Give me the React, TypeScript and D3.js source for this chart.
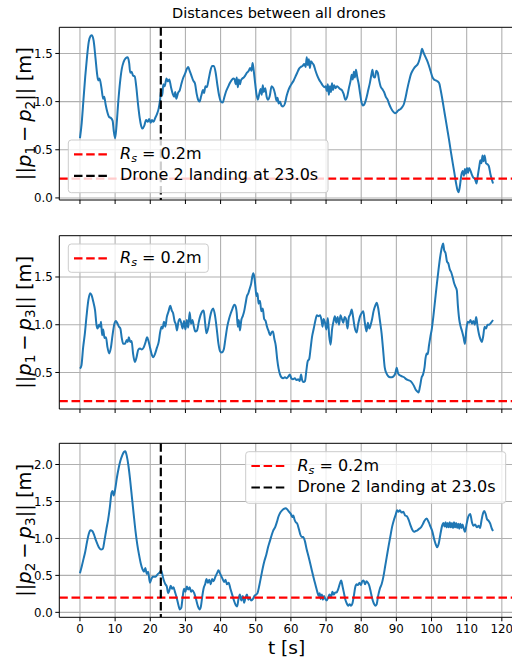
import React from 'react';
import * as d3 from 'd3';

type P = [number, number];

// ||p1 - p2|| over time [t (s), distance (m)]
const d12: P[] = [
[0,0.62],[0.5,0.78],[1,1.02],[1.5,1.26],[2,1.46],[2.5,1.62],[3,1.68],[3.4,1.69],[3.9,1.63],[4.4,1.46],[4.9,1.28],[5.2,1.22],[5.5,1.24],[5.8,1.21],[6.2,1.12],[6.6,1.03],[6.9,1.05],[7.3,0.97],[7.8,0.89],[8.3,0.84],[8.8,0.83],[9.3,0.80],[9.6,0.70],[10,0.62],[10.4,0.75],[10.9,1.0],[11.4,1.2],[11.9,1.34],[12.4,1.41],[13,1.45],[13.6,1.46],[14,1.40],[14.3,1.30],[14.7,1.31],[15.1,1.27],[15.6,1.26],[16,1.16],[16.5,0.98],[17,0.83],[17.4,0.75],[17.8,0.72],[18.3,0.75],[18.8,0.81],[19.3,0.79],[19.7,0.82],[20.1,0.78],[20.5,0.81],[20.9,0.79],[21.4,0.83],[21.9,0.87],[22.4,0.93],[22.8,1.02],[23.1,1.12],[23.4,1.06],[23.7,1.18],[24.1,1.16],[24.6,1.24],[25,1.21],[25.4,1.23],[25.9,1.15],[26.4,1.08],[26.8,1.05],[27.1,1.10],[27.4,1.03],[27.9,1.09],[28.4,1.12],[28.9,1.19],[29.4,1.25],[29.9,1.29],[30.4,1.34],[30.8,1.36],[31.2,1.32],[31.7,1.27],[32.2,1.22],[32.7,1.19],[33.2,1.08],[33.6,1.02],[34,1.0],[34.5,1.06],[35,1.12],[35.3,1.09],[35.7,1.16],[36.1,1.15],[36.6,1.23],[37.1,1.32],[37.6,1.37],[38.1,1.37],[38.6,1.30],[39.1,1.17],[39.6,1.06],[40.1,1.0],[40.6,0.99],[41.1,1.05],[41.6,1.11],[42.1,1.15],[42.6,1.19],[43.1,1.22],[43.6,1.24],[44,1.23],[44.3,1.18],[44.6,1.25],[44.9,1.15],[45.2,1.23],[45.5,1.18],[45.8,1.22],[46.2,1.24],[46.6,1.25],[47,1.27],[47.5,1.30],[48,1.32],[48.4,1.35],[48.8,1.32],[49.1,1.40],[49.4,1.33],[49.8,1.20],[50.2,1.08],[50.6,1.02],[51,1.08],[51.4,1.13],[51.7,1.07],[52,1.17],[52.3,1.10],[52.7,1.14],[53.1,1.05],[53.5,1.02],[54,1.06],[54.5,1.16],[55,1.14],[55.5,1.08],[55.9,1.01],[56.2,1.04],[56.5,0.98],[56.9,1.00],[57.3,0.96],[57.8,0.95],[58.3,0.98],[58.8,1.06],[59.3,1.12],[59.8,1.16],[60.3,1.19],[60.8,1.22],[61.3,1.26],[61.8,1.30],[62.3,1.34],[62.8,1.36],[63.3,1.37],[63.8,1.39],[64.2,1.36],[64.5,1.46],[64.8,1.38],[65.1,1.44],[65.4,1.35],[65.7,1.42],[66.1,1.40],[66.5,1.38],[67,1.32],[67.5,1.27],[68,1.23],[68.5,1.20],[69,1.17],[69.5,1.15],[69.9,1.16],[70.2,1.11],[70.5,1.18],[70.8,1.07],[71.1,1.16],[71.4,1.10],[71.7,1.19],[72,1.12],[72.3,1.17],[72.7,1.14],[73.1,1.16],[73.5,1.15],[74,1.13],[74.5,1.12],[75,1.08],[75.5,1.02],[76,1.05],[76.5,1.14],[77,1.22],[77.3,1.28],[77.6,1.23],[77.9,1.31],[78.2,1.25],[78.5,1.33],[78.9,1.25],[79.3,1.18],[79.7,1.08],[80.1,0.99],[80.5,0.96],[81,0.98],[81.5,1.04],[82,1.12],[82.5,1.20],[82.9,1.28],[83.2,1.33],[83.5,1.26],[83.9,1.25],[84.3,1.32],[84.7,1.30],[85.1,1.22],[85.5,1.16],[86,1.13],[86.5,1.10],[87,1.05],[87.5,1.02],[88,0.97],[88.5,0.93],[89,0.90],[89.6,0.88],[90.1,0.89],[90.6,0.91],[91.1,0.92],[91.6,0.94],[92.1,0.97],[92.6,1.04],[93.1,1.13],[93.6,1.21],[94.1,1.28],[94.6,1.32],[95.1,1.35],[95.6,1.37],[96.1,1.39],[96.6,1.44],[97,1.50],[97.3,1.55],[97.7,1.51],[98.2,1.47],[98.7,1.43],[99.2,1.38],[99.7,1.32],[100.2,1.26],[100.7,1.23],[101.2,1.22],[101.7,1.21],[102.2,1.19],[102.6,1.12],[103,1.04],[103.5,0.93],[104,0.82],[104.5,0.71],[105,0.60],[105.5,0.48],[106,0.37],[106.5,0.26],[107,0.15],[107.4,0.08],[107.7,0.06],[108.1,0.13],[108.5,0.24],[108.9,0.28],[109.2,0.23],[109.5,0.30],[109.8,0.25],[110.1,0.31],[110.4,0.26],[110.7,0.31],[111.1,0.28],[111.5,0.24],[111.9,0.21],[112.3,0.20],[112.8,0.15],[113.2,0.24],[113.6,0.33],[113.9,0.39],[114.2,0.36],[114.5,0.44],[114.8,0.38],[115.1,0.44],[115.5,0.36],[115.9,0.35],[116.3,0.33],[116.8,0.24],[117.5,0.15]
];

// ||p1 - p3|| over time
const d13: P[] = [
[0,0.54],[0.4,0.57],[0.9,0.76],[1.4,0.91],[1.9,1.1],[2.4,1.26],[2.9,1.33],[3.3,1.31],[3.8,1.24],[4.3,1.15],[4.7,1.0],[5.0,0.96],[5.4,1.0],[5.7,0.98],[6.0,1.03],[6.3,0.89],[6.6,0.95],[7.0,0.86],[7.4,0.87],[7.8,0.77],[8.3,0.70],[8.8,0.76],[9.3,0.90],[9.8,1.01],[10.2,1.04],[10.7,1.01],[11.1,0.98],[11.5,0.96],[11.9,0.86],[12.3,0.80],[12.8,0.80],[13.3,0.84],[13.6,0.82],[13.9,0.87],[14.3,0.82],[14.7,0.83],[15.1,0.70],[15.6,0.61],[16.1,0.66],[16.6,0.74],[17.1,0.75],[17.6,0.74],[18.1,0.76],[18.6,0.81],[19.1,0.87],[19.5,0.83],[20,0.75],[20.5,0.68],[20.9,0.66],[21.4,0.70],[21.9,0.76],[22.4,0.82],[22.8,0.92],[23.2,0.98],[23.5,0.96],[23.9,1.03],[24.3,0.98],[24.7,1.08],[25.2,1.14],[25.7,1.20],[26.1,1.15],[26.5,1.12],[26.9,1.04],[27.3,1.00],[27.6,0.94],[28.0,1.03],[28.4,1.06],[28.8,1.02],[29.2,0.96],[29.6,1.04],[30.0,0.95],[30.4,1.05],[30.8,0.97],[31.2,1.13],[31.6,1.01],[32,1.05],[32.4,0.98],[32.8,0.93],[33.3,0.94],[33.8,1.03],[34.3,1.10],[34.8,1.14],[35.2,1.15],[35.6,1.02],[36.0,0.91],[36.5,0.97],[37.0,1.08],[37.5,1.15],[37.9,1.17],[38.4,1.10],[38.9,0.96],[39.4,0.80],[39.9,0.72],[40.4,0.71],[40.9,0.74],[41.4,0.86],[41.9,0.98],[42.4,1.06],[42.9,1.12],[43.4,1.17],[43.9,1.21],[44.2,1.20],[44.6,1.12],[44.9,0.98],[45.2,1.05],[45.5,0.94],[45.9,1.05],[46.3,1.09],[46.7,1.14],[47.1,1.22],[47.5,1.30],[47.9,1.33],[48.3,1.38],[48.7,1.43],[49.0,1.50],[49.3,1.54],[49.6,1.50],[49.9,1.40],[50.2,1.30],[50.5,1.33],[50.8,1.22],[51.2,1.25],[51.6,1.14],[52.0,1.17],[52.4,1.06],[52.8,1.04],[53.2,0.98],[53.6,0.94],[54.1,0.89],[54.5,0.92],[54.9,0.93],[55.3,0.85],[55.7,0.78],[56.1,0.64],[56.5,0.54],[56.9,0.48],[57.3,0.45],[57.8,0.44],[58.3,0.45],[58.8,0.44],[59.3,0.46],[59.7,0.48],[60.1,0.44],[60.6,0.43],[61.1,0.44],[61.6,0.42],[62.1,0.43],[62.5,0.41],[62.9,0.48],[63.2,0.42],[63.6,0.40],[64.0,0.41],[64.4,0.52],[64.8,0.62],[65.2,0.64],[65.6,0.75],[66.0,0.87],[66.5,0.96],[67.0,1.05],[67.4,1.10],[67.9,1.09],[68.3,1.10],[68.7,1.05],[69.0,0.98],[69.3,1.06],[69.7,1.02],[70.1,0.95],[70.5,1.07],[70.9,0.88],[71.3,0.79],[71.7,0.95],[72.1,1.03],[72.5,1.09],[72.9,1.02],[73.3,1.08],[73.7,1.00],[74.1,1.10],[74.5,1.06],[74.9,1.02],[75.3,1.08],[75.7,1.06],[76.1,0.96],[76.5,1.08],[76.9,1.11],[77.3,1.16],[77.7,1.08],[78.1,0.98],[78.7,0.92],[79.1,1.00],[79.6,1.08],[80.1,1.12],[80.6,1.14],[81.0,1.03],[81.5,0.93],[81.9,1.02],[82.3,0.96],[82.7,1.00],[83.1,1.06],[83.5,1.14],[84.0,1.20],[84.4,1.23],[84.8,1.18],[85.3,1.05],[85.8,0.91],[86.2,0.75],[86.7,0.55],[87.2,0.49],[87.7,0.46],[88.2,0.45],[88.7,0.45],[89.2,0.46],[89.7,0.49],[90.1,0.55],[90.5,0.49],[91.0,0.47],[91.6,0.46],[92.2,0.45],[92.8,0.43],[93.4,0.42],[94.0,0.41],[94.5,0.39],[95.0,0.36],[95.5,0.32],[96.0,0.30],[96.3,0.29],[96.7,0.35],[97.2,0.45],[97.6,0.48],[98.0,0.55],[98.3,0.65],[98.6,0.70],[98.9,0.69],[99.3,0.79],[99.7,0.88],[100.1,0.96],[100.5,1.08],[101.0,1.25],[101.5,1.42],[102.0,1.58],[102.5,1.72],[103.0,1.82],[103.3,1.85],[103.6,1.78],[104.0,1.75],[104.4,1.66],[104.8,1.64],[105.2,1.58],[105.6,1.55],[106.0,1.50],[106.4,1.44],[106.8,1.40],[107.2,1.36],[107.5,1.20],[107.9,1.05],[108.3,0.98],[108.7,0.93],[109.1,0.87],[109.5,0.80],[109.9,0.95],[110.3,1.03],[110.7,1.02],[111.1,1.05],[111.5,1.01],[111.9,1.04],[112.3,1.00],[112.7,1.08],[113.1,0.98],[113.5,0.90],[113.9,0.85],[114.3,0.82],[114.7,0.88],[115.1,0.98],[115.5,0.96],[115.9,1.0],[116.4,1.00],[116.9,1.02],[117.5,1.05]
];

// ||p2 - p3|| over time
const d23: P[] = [
[0,0.53],[0.5,0.62],[1,0.72],[1.5,0.82],[2,0.95],[2.5,1.06],[3,1.11],[3.5,1.10],[4,1.05],[4.5,0.98],[5,0.92],[5.5,0.87],[6,0.85],[6.5,0.86],[7,0.98],[7.5,1.12],[8,1.25],[8.5,1.42],[9,1.62],[9.3,1.64],[9.6,1.58],[10,1.66],[10.5,1.82],[11,1.95],[11.5,2.05],[12,2.12],[12.5,2.17],[12.9,2.18],[13.3,2.12],[13.8,1.98],[14.3,1.78],[14.8,1.55],[15.3,1.32],[15.8,1.10],[16.3,0.92],[16.8,0.78],[17.3,0.66],[17.8,0.58],[18.2,0.55],[18.6,0.60],[19,0.52],[19.4,0.55],[19.9,0.40],[20.3,0.45],[20.7,0.48],[21.2,0.48],[21.7,0.49],[22.2,0.52],[22.7,0.54],[23.1,0.57],[23.4,0.52],[23.8,0.44],[24.3,0.38],[24.7,0.35],[25.1,0.26],[25.5,0.31],[25.8,0.36],[26.2,0.32],[26.6,0.34],[27,0.28],[27.5,0.20],[28,0.10],[28.4,0.04],[28.8,0.06],[29.2,0.20],[29.6,0.32],[30,0.28],[30.4,0.35],[30.8,0.31],[31.2,0.34],[31.6,0.28],[32,0.30],[32.5,0.26],[33,0.18],[33.5,0.09],[34,0.04],[34.4,0.08],[34.8,0.22],[35.2,0.33],[35.6,0.38],[36,0.45],[36.4,0.40],[36.8,0.44],[37.2,0.38],[37.6,0.45],[38,0.42],[38.5,0.48],[39,0.53],[39.4,0.57],[39.8,0.53],[40.2,0.49],[40.6,0.45],[41,0.41],[41.4,0.44],[41.8,0.38],[42.3,0.40],[42.8,0.32],[43.3,0.24],[43.8,0.16],[44.3,0.10],[44.7,0.08],[45.1,0.18],[45.5,0.24],[45.9,0.16],[46.3,0.22],[46.7,0.13],[47.1,0.20],[47.5,0.24],[47.9,0.17],[48.3,0.20],[48.7,0.16],[49.2,0.18],[49.6,0.22],[50.1,0.24],[50.5,0.26],[51,0.36],[51.5,0.48],[52,0.60],[52.5,0.70],[53,0.78],[53.5,0.88],[54,0.96],[54.5,1.04],[55,1.11],[55.5,1.15],[56,1.22],[56.5,1.30],[57,1.35],[57.5,1.38],[58,1.40],[58.5,1.41],[59,1.39],[59.5,1.36],[60,1.33],[60.4,1.29],[60.7,1.31],[61,1.26],[61.4,1.22],[61.8,1.20],[62.3,1.12],[62.7,1.05],[63.1,1.02],[63.5,1.02],[64,0.96],[64.5,0.85],[65,0.76],[65.5,0.66],[66,0.56],[66.5,0.46],[67,0.37],[67.5,0.28],[67.9,0.22],[68.2,0.26],[68.5,0.18],[68.8,0.24],[69.1,0.17],[69.4,0.22],[69.8,0.18],[70.2,0.16],[70.6,0.20],[71,0.24],[71.4,0.20],[71.8,0.28],[72.2,0.24],[72.6,0.27],[73,0.27],[73.5,0.32],[74,0.40],[74.3,0.43],[74.7,0.35],[75.1,0.26],[75.5,0.17],[75.9,0.12],[76.3,0.09],[76.7,0.11],[77.1,0.09],[77.5,0.12],[77.9,0.22],[78.3,0.34],[78.7,0.38],[79.1,0.37],[79.5,0.40],[79.9,0.37],[80.3,0.42],[80.7,0.43],[81.1,0.38],[81.5,0.42],[81.9,0.40],[82.3,0.36],[82.7,0.28],[83.1,0.19],[83.6,0.12],[84,0.09],[84.4,0.11],[84.8,0.22],[85.3,0.32],[85.8,0.38],[86.3,0.48],[86.8,0.62],[87.3,0.76],[87.8,0.90],[88.3,1.03],[88.8,1.16],[89.3,1.25],[89.8,1.32],[90.2,1.38],[90.6,1.36],[91,1.38],[91.5,1.35],[92,1.36],[92.5,1.31],[93,1.30],[93.5,1.25],[94,1.18],[94.5,1.12],[95,1.09],[95.5,1.10],[96,1.11],[96.5,1.13],[97,1.15],[97.5,1.19],[98,1.24],[98.6,1.27],[99.2,1.22],[99.7,1.16],[100.2,1.10],[100.7,1.00],[101.2,0.92],[101.6,0.88],[102,0.92],[102.5,1.05],[103,1.17],[103.4,1.21],[103.7,1.16],[104,1.22],[104.3,1.15],[104.6,1.21],[104.9,1.15],[105.2,1.22],[105.5,1.15],[105.8,1.21],[106.1,1.14],[106.4,1.22],[106.7,1.15],[107,1.21],[107.3,1.14],[107.6,1.20],[107.9,1.13],[108.2,1.20],[108.5,1.14],[108.8,1.19],[109.2,1.13],[109.5,1.09],[110,1.20],[110.5,1.30],[111,1.33],[111.5,1.22],[111.9,1.17],[112.4,1.19],[112.9,1.15],[113.4,1.17],[113.8,1.14],[114.2,1.24],[114.6,1.33],[115,1.37],[115.4,1.33],[115.8,1.26],[116.2,1.24],[116.7,1.20],[117.1,1.14],[117.5,1.10]
];

const xTicks = [0, 10, 20, 30, 40, 50, 60, 70, 80, 90, 100, 110, 120];
const yTicks12 = [0.0, 0.5, 1.0, 1.5];
const yTicks13 = [0.5, 1.0, 1.5];
const yTicks23 = [0.0, 0.5, 1.0, 1.5, 2.0];
const safetyRadius = 0.2;
const landingTime = 23.0;
const tEnd = 117.5;
const titleText = 'Distances between all drones';
const landingLabel = 'Drone 2 landing at 23.0s';
const xLabel = 't [s]';

const FONT = "'DejaVu Sans', 'Liberation Sans', sans-serif";
const BLUE = '#1f77b4';
const GRID = '#b0b0b0';

const X0 = 59.3;
const X1 = 513.7;
const x = d3.scaleLinear().domain([-0.05 * tEnd, 1.05 * tEnd]).range([X0, X1]);

type Legend = { x: number; y: number; w: number; h: number; rows: ('safety' | 'landing')[] };
type Panel = { data: P[]; top: number; bottom: number; ticks: number[]; a: string; b: string; vline: boolean; legend: Legend };

const panels: Panel[] = [
  { data: d12, top: 27.3, bottom: 200, ticks: yTicks12, a: '1', b: '2', vline: true,
    legend: { x: 68.3, y: 140, w: 259.7, h: 52.7, rows: ['safety', 'landing'] } },
  { data: d13, top: 235.7, bottom: 409, ticks: yTicks13, a: '1', b: '3', vline: false,
    legend: { x: 68.3, y: 244, w: 140, h: 28.3, rows: ['safety'] } },
  { data: d23, top: 443.3, bottom: 617.3, ticks: yTicks23, a: '2', b: '3', vline: true,
    legend: { x: 245.7, y: 451.7, w: 260, h: 51.6, rows: ['safety', 'landing'] } },
];

const DASH = '8.5 3.7';

function YLabel({ cx, cy, a, b }: { cx: number; cy: number; a: string; b: string }) {
  const fs = 19.5;
  const sub = fs * 0.7;
  return (
    <text transform={`translate(${cx},${cy}) rotate(-90)`} textAnchor="middle" fontFamily={FONT} fontSize={fs} fill="#000">
      <tspan>||</tspan>
      <tspan fontStyle="italic">p</tspan>
      <tspan fontSize={sub} dy={fs * 0.2}>{a}</tspan>
      <tspan dy={-fs * 0.2}>{'\u2009\u2212\u2009'}</tspan>
      <tspan fontStyle="italic">p</tspan>
      <tspan fontSize={sub} dy={fs * 0.2}>{b}</tspan>
      <tspan dy={-fs * 0.2}>|| [m]</tspan>
    </text>
  );
}

function LegendBox({ lg }: { lg: Legend }) {
  const fs = 16;
  return (
    <g>
      <rect x={lg.x} y={lg.y} width={lg.w} height={lg.h} rx={3} ry={3} fill="#fff" fillOpacity={0.8} stroke="#cccccc" strokeWidth={1} />
      {lg.rows.map((r, i) => {
        const cy = lg.y + 14.3 + i * 21.5;
        const color = r === 'safety' ? 'red' : 'black';
        return (
          <g key={i}>
            <line x1={lg.x + 5.7} x2={lg.x + 38.7} y1={cy} y2={cy} stroke={color} strokeWidth={2.2} strokeDasharray={DASH} />
            <text x={lg.x + 51.7} y={cy + 4.6} fontFamily={FONT} fontSize={fs} fill="#000">
              {r === 'safety' ? (
                <>
                  <tspan fontStyle="italic">R</tspan>
                  <tspan fontStyle="italic" fontSize={fs * 0.7} dy={fs * 0.2}>s</tspan>
                  <tspan dy={-fs * 0.2}>{` = ${safetyRadius}m`}</tspan>
                </>
              ) : (
                landingLabel
              )}
            </text>
          </g>
        );
      })}
    </g>
  );
}

function PanelView({ p, idx, last }: { p: Panel; idx: number; last: boolean }) {
  const vals = p.data.map((d) => d[1]);
  const lo = Math.min(d3.min(vals) as number, safetyRadius);
  const hi = d3.max(vals) as number;
  const pad = 0.05 * (hi - lo);
  const y = d3.scaleLinear().domain([lo - pad, hi + pad]).range([p.bottom, p.top]);
  const line = d3.line<P>().x((d) => x(d[0])).y((d) => y(d[1])).curve(d3.curveMonotoneX);
  const clipId = `clip${idx}`;
  const fmt = d3.format('.1f');
  return (
    <g>
      <defs>
        <clipPath id={clipId}>
          <rect x={X0} y={p.top} width={X1 - X0} height={p.bottom - p.top} />
        </clipPath>
      </defs>
      <g clipPath={`url(#${clipId})`}>
        {xTicks.map((t) => (
          <line key={`gx${t}`} x1={x(t)} x2={x(t)} y1={p.top} y2={p.bottom} stroke={GRID} strokeWidth={1.1} />
        ))}
        {p.ticks.map((v) => (
          <line key={`gy${v}`} x1={X0} x2={X1} y1={y(v)} y2={y(v)} stroke={GRID} strokeWidth={1.1} />
        ))}
        <path d={line(p.data) || ''} fill="none" stroke={BLUE} strokeWidth={2} strokeLinejoin="round" />
        <line x1={X0} x2={X1} y1={y(safetyRadius)} y2={y(safetyRadius)} stroke="red" strokeWidth={2.2} strokeDasharray={DASH} />
        {p.vline && (
          <line x1={x(landingTime)} x2={x(landingTime)} y1={p.top} y2={p.bottom} stroke="black" strokeWidth={2.2} strokeDasharray={DASH} />
        )}
      </g>
      {/* spines */}
      <line x1={X0} x2={X1} y1={p.top} y2={p.top} stroke="#000" strokeWidth={1} />
      <line x1={X0} x2={X1} y1={p.bottom} y2={p.bottom} stroke="#000" strokeWidth={1} />
      <line x1={X0} x2={X0} y1={p.top} y2={p.bottom} stroke="#000" strokeWidth={1} />
      {/* ticks */}
      {xTicks.map((t) => (
        <line key={`tx${t}`} x1={x(t)} x2={x(t)} y1={p.bottom} y2={p.bottom + 4} stroke="#000" strokeWidth={1} />
      ))}
      {p.ticks.map((v) => (
        <g key={`ty${v}`}>
          <line x1={X0 - 4} x2={X0} y1={y(v)} y2={y(v)} stroke="#000" strokeWidth={1} />
          <text x={X0 - 6.5} y={y(v) + 4.2} textAnchor="end" fontFamily={FONT} fontSize={11.8} fill="#000">{fmt(v)}</text>
        </g>
      ))}
      {last && xTicks.map((t) => (
        <text key={`lx${t}`} x={x(t)} y={p.bottom + 16} textAnchor="middle" fontFamily={FONT} fontSize={11.8} fill="#000">{t}</text>
      ))}
      <YLabel cx={31} cy={(p.top + p.bottom) / 2} a={p.a} b={p.b} />
      <LegendBox lg={p.legend} />
    </g>
  );
}

export default function App() {
  return (
    <svg width={512} height={660} viewBox="0 0 512 660" style={{ position: 'absolute', left: 0, top: 0, background: '#fff' }}>
      <rect x={0} y={0} width={512} height={660} fill="#fff" />
      <text x={279} y={18} textAnchor="middle" fontFamily={FONT} fontSize={14.5} fill="#000">{titleText}</text>
      {panels.map((p, i) => (
        <PanelView key={i} p={p} idx={i} last={i === panels.length - 1} />
      ))}
      <text x={(X0 + X1) / 2} y={654} textAnchor="middle" fontFamily={FONT} fontSize={18.5} fill="#000">{xLabel}</text>
    </svg>
  );
}
